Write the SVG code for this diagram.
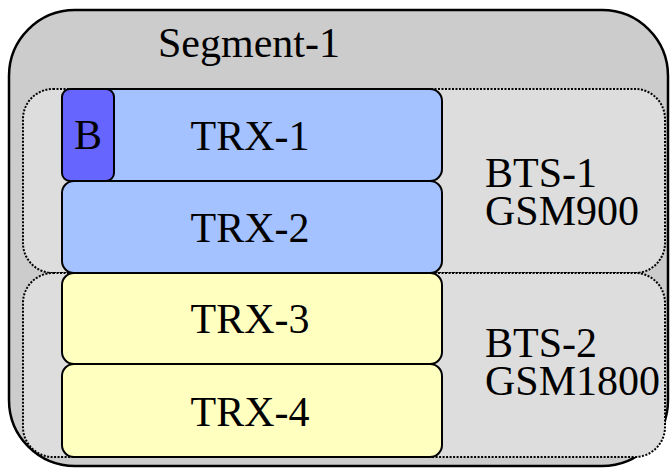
<svg xmlns="http://www.w3.org/2000/svg" width="670" height="468" viewBox="0 0 670 468">
<style>
.bts{fill:#dddddd;stroke:#000;stroke-width:2;stroke-dasharray:2 1.5}
.trx{stroke:#000;stroke-width:2}
.blue{fill:#a4c2ff}
.yel{fill:#ffffc0}
</style>
<g font-family="Liberation Serif, Times New Roman, DejaVu Serif, serif" font-size="42" fill="#000">
<g id="segment-1">
<rect x="9" y="10" width="659" height="456" rx="66" ry="66" fill="#cccccc" stroke="#000" stroke-width="2.5"/>
<text text-anchor="middle" x="249" y="57">Segment-1</text>
</g>
<g id="bts-1">
<rect class="bts" x="23" y="89" width="642" height="184" rx="30" ry="30"/>
<text x="485" y="187">BTS-1</text>
<text x="485" y="225">GSM900</text>
</g>
<g id="bts-2">
<rect class="bts" x="23" y="273" width="642" height="184" rx="30" ry="30"/>
<text x="485" y="357">BTS-2</text>
<text x="485" y="395">GSM1800</text>
</g>
<g id="trx-1">
<rect class="trx blue" x="62" y="89" width="380" height="92" rx="12" ry="12"/>
<text text-anchor="middle" x="250" y="150">TRX-1</text>
</g>
<g id="b">
<rect class="trx" x="62" y="89" width="52" height="92" rx="8" ry="8" fill="#6666ff"/>
<text text-anchor="middle" x="88" y="149">B</text>
</g>
<g id="trx-2">
<rect class="trx blue" x="62" y="181" width="380" height="92" rx="12" ry="12"/>
<text text-anchor="middle" x="250" y="242">TRX-2</text>
</g>
<g id="trx-3">
<rect class="trx yel" x="62" y="273" width="380" height="91" rx="12" ry="12"/>
<text text-anchor="middle" x="250" y="333">TRX-3</text>
</g>
<g id="trx-4">
<rect class="trx yel" x="62" y="364" width="380" height="93" rx="12" ry="12"/>
<text text-anchor="middle" x="250" y="426">TRX-4</text>
</g>
<g id="connectors"/>
</g>
</svg>
